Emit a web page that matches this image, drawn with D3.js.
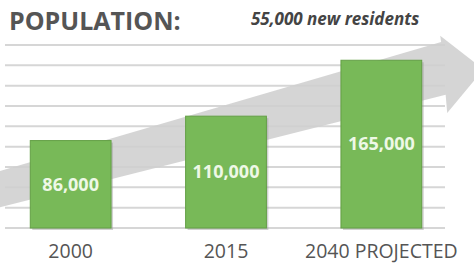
<!DOCTYPE html>
<html>
<head>
<meta charset="utf-8">
<script src="https://cdn.jsdelivr.net/npm/d3@7"></script>
<style>
  html, body { margin: 0; padding: 0; background: #fff; }
  svg { display: block; font-family: "Open Sans", "DejaVu Sans", sans-serif; }
</style>
</head>
<body>
<div id="chart"></div>
<script>
// chart data
const years = ["2000", "2015", "2040 PROJECTED"];
const population = [86000, 110000, 165000];
const barLabels = ["86,000", "110,000", "165,000"];
const gridValues = [0, 20000, 40000, 60000, 80000, 100000, 120000, 140000, 160000, 180000];
const title = "POPULATION:";
const subtitle = "55,000 new residents";

const width = 474;
const height = 265;

const svg = d3
  .select("#chart")
  .append("svg")
  .attr("width", width)
  .attr("height", height);

const x = d3
  .scaleBand()
  .domain(years)
  .range([-7, 459])
  .paddingInner(0.48)
  .paddingOuter(0.24);

const y = d3.scaleLinear().domain([0, 180000]).range([228, 45]);

// continuous position along the categories (0 = first bar centre)
const xPos = d3
  .scaleLinear()
  .domain([0, years.length - 1])
  .range([x(years[0]) + x.bandwidth() / 2, x(years[years.length - 1]) + x.bandwidth() / 2]);

// gridlines
svg
  .append("g")
  .attr("class", "grid")
  .selectAll("line")
  .data(gridValues)
  .enter()
  .append("line")
  .attr("x1", 5)
  .attr("x2", 445)
  .attr("y1", (d) => y(d))
  .attr("y2", (d) => y(d))
  .attr("stroke", "#d6d6d6")
  .attr("stroke-width", 2);

// big grey growth arrow behind the bars, in (position, population) units
const arrowShape = [
  [-0.5, 54000],
  [2.385, 183000],
  [2.379, 189000],
  [2.657, 156000],
  [2.424, 113000],
  [2.414, 131000],
  [-0.5, 18700],
];

svg
  .append("path")
  .attr("class", "arrow")
  .attr(
    "d",
    d3
      .line()
      .x((d) => xPos(d[0]))
      .y((d) => y(d[1]))
      .curve(d3.curveLinearClosed)(arrowShape)
  )
  .attr("fill", "#cfcfcf")
  .attr("fill-opacity", 0.88);

// bars
const bars = svg
  .append("g")
  .attr("class", "bars")
  .selectAll("g")
  .data(years)
  .enter()
  .append("g");

bars
  .append("rect")
  .attr("x", (d) => x(d) + 2)
  .attr("y", (d, i) => y(population[i]) + 2)
  .attr("width", x.bandwidth())
  .attr("height", (d, i) => y(0) - y(population[i]))
  .attr("fill", "#9a9a9a")
  .attr("fill-opacity", 0.45);

bars
  .append("rect")
  .attr("x", (d) => x(d))
  .attr("y", (d, i) => y(population[i]))
  .attr("width", x.bandwidth())
  .attr("height", (d, i) => y(0) - y(population[i]))
  .attr("fill", "#78b958")
  .attr("stroke", "#639f45")
  .attr("stroke-width", 1);

bars
  .append("text")
  .attr("x", (d) => x(d) + x.bandwidth() / 2)
  .attr("y", (d, i) => (y(population[i]) + y(0)) / 2)
  .attr("dy", "0.35em")
  .attr("text-anchor", "middle")
  .attr("font-size", 18)
  .attr("font-weight", "bold")
  .attr("fill", "#eef8e6")
  .text((d, i) => barLabels[i]);

// category labels
const xAxis = svg
  .append("g")
  .attr("transform", `translate(0, ${y(0)})`)
  .call(d3.axisBottom(x).tickSize(0).tickPadding(0));

xAxis.select(".domain").remove();
xAxis
  .selectAll("text")
  .attr("dy", null)
  .attr("y", 30)
  .attr("font-family", "Open Sans, sans-serif")
  .attr("font-size", 19.5)
  .attr("fill", "#555");

// headings
svg
  .append("text")
  .attr("x", 9)
  .attr("y", 30)
  .attr("font-size", 25)
  .attr("font-weight", "bold")
  .attr("fill", "#555")
  .text(title);

svg
  .append("text")
  .attr("x", 251)
  .attr("y", 25)
  .attr("font-size", 17)
  .attr("font-weight", "bold")
  .attr("font-style", "italic")
  .attr("fill", "#444")
  .text(subtitle);
</script>
</body>
</html>
